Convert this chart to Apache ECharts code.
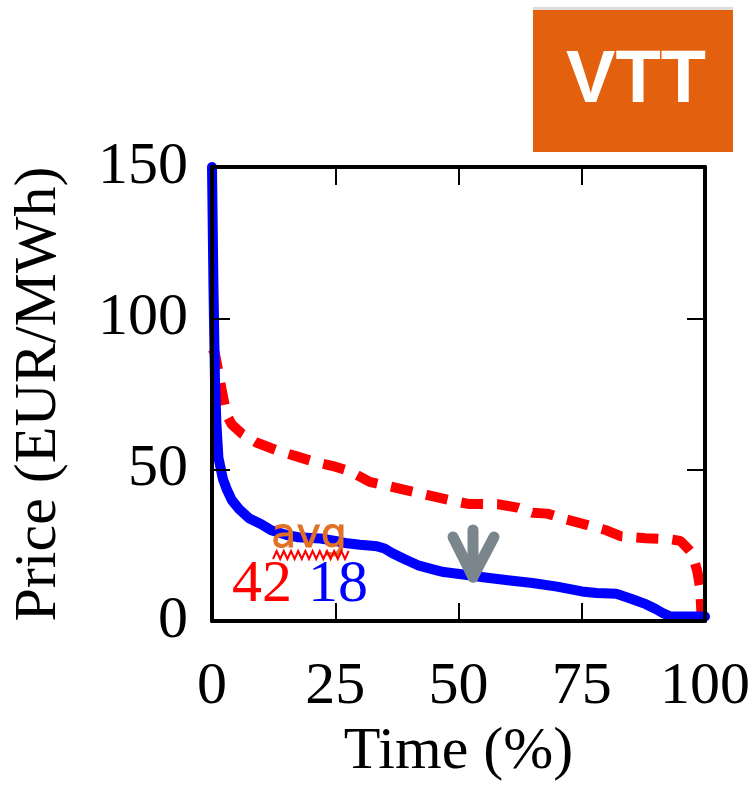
<!DOCTYPE html>
<html><head><meta charset="utf-8">
<script src="https://cdn.jsdelivr.net/npm/echarts@6/dist/echarts.min.js"></script>
<style>html,body{margin:0;padding:0;background:#fff}#c{width:753px;height:787px}</style>
</head><body><div id="c"></div>
<script>
// Tick values
const xTicks = [0, 25, 50, 75, 100];
const yTicks = [0, 50, 100, 150];
// Blue series (solid) : time % and price
const timeBlue  = [0, 0.3, 0.6, 0.9, 1.3, 2.2, 3, 4, 5.5, 7.5, 10, 12, 15, 17.5, 22, 25, 27, 30, 33.5, 35, 36.5, 39, 42, 45, 47, 51, 55, 60, 65, 70, 75, 78, 82, 85, 88, 90, 91.5, 93, 100];
const priceBlue = [150, 110, 80, 65, 54, 47, 43.5, 40, 37, 34, 32, 30, 28.5, 27.7, 27.3, 26.5, 25.8, 25.2, 24.7, 24, 22.5, 20.5, 18.3, 17, 16.2, 15.4, 14.5, 13.5, 12.6, 11.4, 9.8, 9.3, 9, 7.4, 5.6, 4, 2.6, 1.5, 1.5];
// Red series (dashed)
const timeRed  = [0, 0.5, 1, 2, 3, 4, 6, 9, 13, 17, 21, 25, 28, 32, 36, 40, 44, 48, 52, 58, 62, 65, 68, 72, 76, 80, 83, 88, 93, 95, 96.5, 97.5, 98.5, 99, 99.3];
const priceRed = [90, 89, 85, 76, 68, 65, 62, 59, 56.5, 54.5, 52.5, 51, 49.5, 46, 44.5, 43, 41.5, 40, 38.7, 38.6, 37.5, 35.8, 35.5, 33.5, 31.8, 30, 28, 27.4, 27, 26.5, 24, 22, 16, 11, 2];
// Annotation texts
const avgLabel = 'avg';
const avgRedText = '42';
const avgBlueText = '18';
const logoText = 'VTT';

const serif = '"Liberation Serif", "Times New Roman", serif';
const pairs = (xs, ys) => xs.map((x, i) => [x, ys[i]]);

const chart = echarts.init(document.getElementById('c'), null, {renderer: 'canvas'});

const axisCommon = {
  type: 'value', z: 10,
  axisLine: {show: true, onZero: false, lineStyle: {color: '#000', width: 4}},
  axisTick: {show: true, inside: true, length: 18, lineStyle: {color: '#000', width: 2}},
  splitLine: {show: false}
};

// zigzag underline points (decoration)
const zig = [];
for (let i = 0; i <= 21; i++) zig.push([273 + i * 3.6, i % 2 ? 551 : 559]);

chart.setOption({
  animation: false,
  backgroundColor: '#fff',
  grid: {left: 212, top: 167, width: 494, height: 466, containLabel: false},
  xAxis: [
    Object.assign({}, axisCommon, {
      position: 'bottom', min: 0, max: 100, interval: 25,
      axisLabel: {show: true, margin: 36, color: '#000', fontFamily: serif, fontSize: 60},
      name: 'Time (%)', nameLocation: 'middle', nameGap: 100,
      nameTextStyle: {color: '#000', fontFamily: serif, fontSize: 60}
    }),
    Object.assign({}, axisCommon, {
      position: 'top', min: 0, max: 100, interval: 25, axisLabel: {show: false}
    })
  ],
  yAxis: [
    Object.assign({}, axisCommon, {
      position: 'left', min: 0, max: 150, interval: 50,
      axisLabel: {show: true, margin: 24, color: '#000', fontFamily: serif, fontSize: 60, padding: [0, 0, 10, 0]},
      name: 'Price (EUR/MWh)', nameLocation: 'middle', nameGap: 143,
      nameTextStyle: {color: '#000', fontFamily: serif, fontSize: 60}
    }),
    Object.assign({}, axisCommon, {
      position: 'right', min: 0, max: 150, interval: 50, axisLabel: {show: false}
    })
  ],
  series: [
    {
      type: 'line', name: 'high', data: pairs(timeRed, priceRed), showSymbol: false, z: 2,
      lineStyle: {color: '#ff0000', width: 10, type: [22, 14], cap: 'butt'}
    },
    {
      type: 'line', name: 'low', data: pairs(timeBlue, priceBlue), showSymbol: false, z: 3,
      lineStyle: {color: '#0000ff', width: 10, join: 'round', cap: 'round'}
    }
  ],
  graphic: [
    {type: 'rect', left: 533, top: 7, shape: {width: 200, height: 3}, style: {fill: '#dcdcdc'}, z: 20},
    {type: 'rect', left: 533, top: 10, shape: {width: 200, height: 142}, style: {fill: '#e3600e'}, z: 20},
    {type: 'text', x: 636, y: 82, z: 21, style: {text: logoText, fill: '#fff', font: 'bold 74px "Liberation Sans", Arial, sans-serif', align: 'center', verticalAlign: 'middle'}},
    {type: 'polyline', z: 20, shape: {points: [[473, 530], [473, 577]]}, style: {stroke: '#7b868c', lineWidth: 11, lineCap: 'round', fill: null}},
    {type: 'polyline', z: 20, shape: {points: [[453, 537], [473, 577], [494, 537]]}, style: {stroke: '#7b868c', lineWidth: 11, lineCap: 'round', lineJoin: 'round', fill: null}},
    {type: 'text', x: 309, y: 536, z: 20, style: {text: avgLabel, fill: '#e27126', font: '41px "DejaVu Sans", sans-serif', align: 'center', verticalAlign: 'middle', stroke: '#e27126', lineWidth: 0.8}},
    {type: 'polyline', z: 20, shape: {points: zig}, style: {stroke: '#ff0000', lineWidth: 2, fill: null}},
    {type: 'text', x: 262, y: 585, z: 20, style: {text: avgRedText, fill: '#ff0000', font: '60px ' + serif, align: 'center', verticalAlign: 'middle'}},
    {type: 'text', x: 338, y: 585, z: 20, style: {text: avgBlueText, fill: '#0000ff', font: '60px ' + serif, align: 'center', verticalAlign: 'middle'}}
  ]
});
</script>
</body></html>
